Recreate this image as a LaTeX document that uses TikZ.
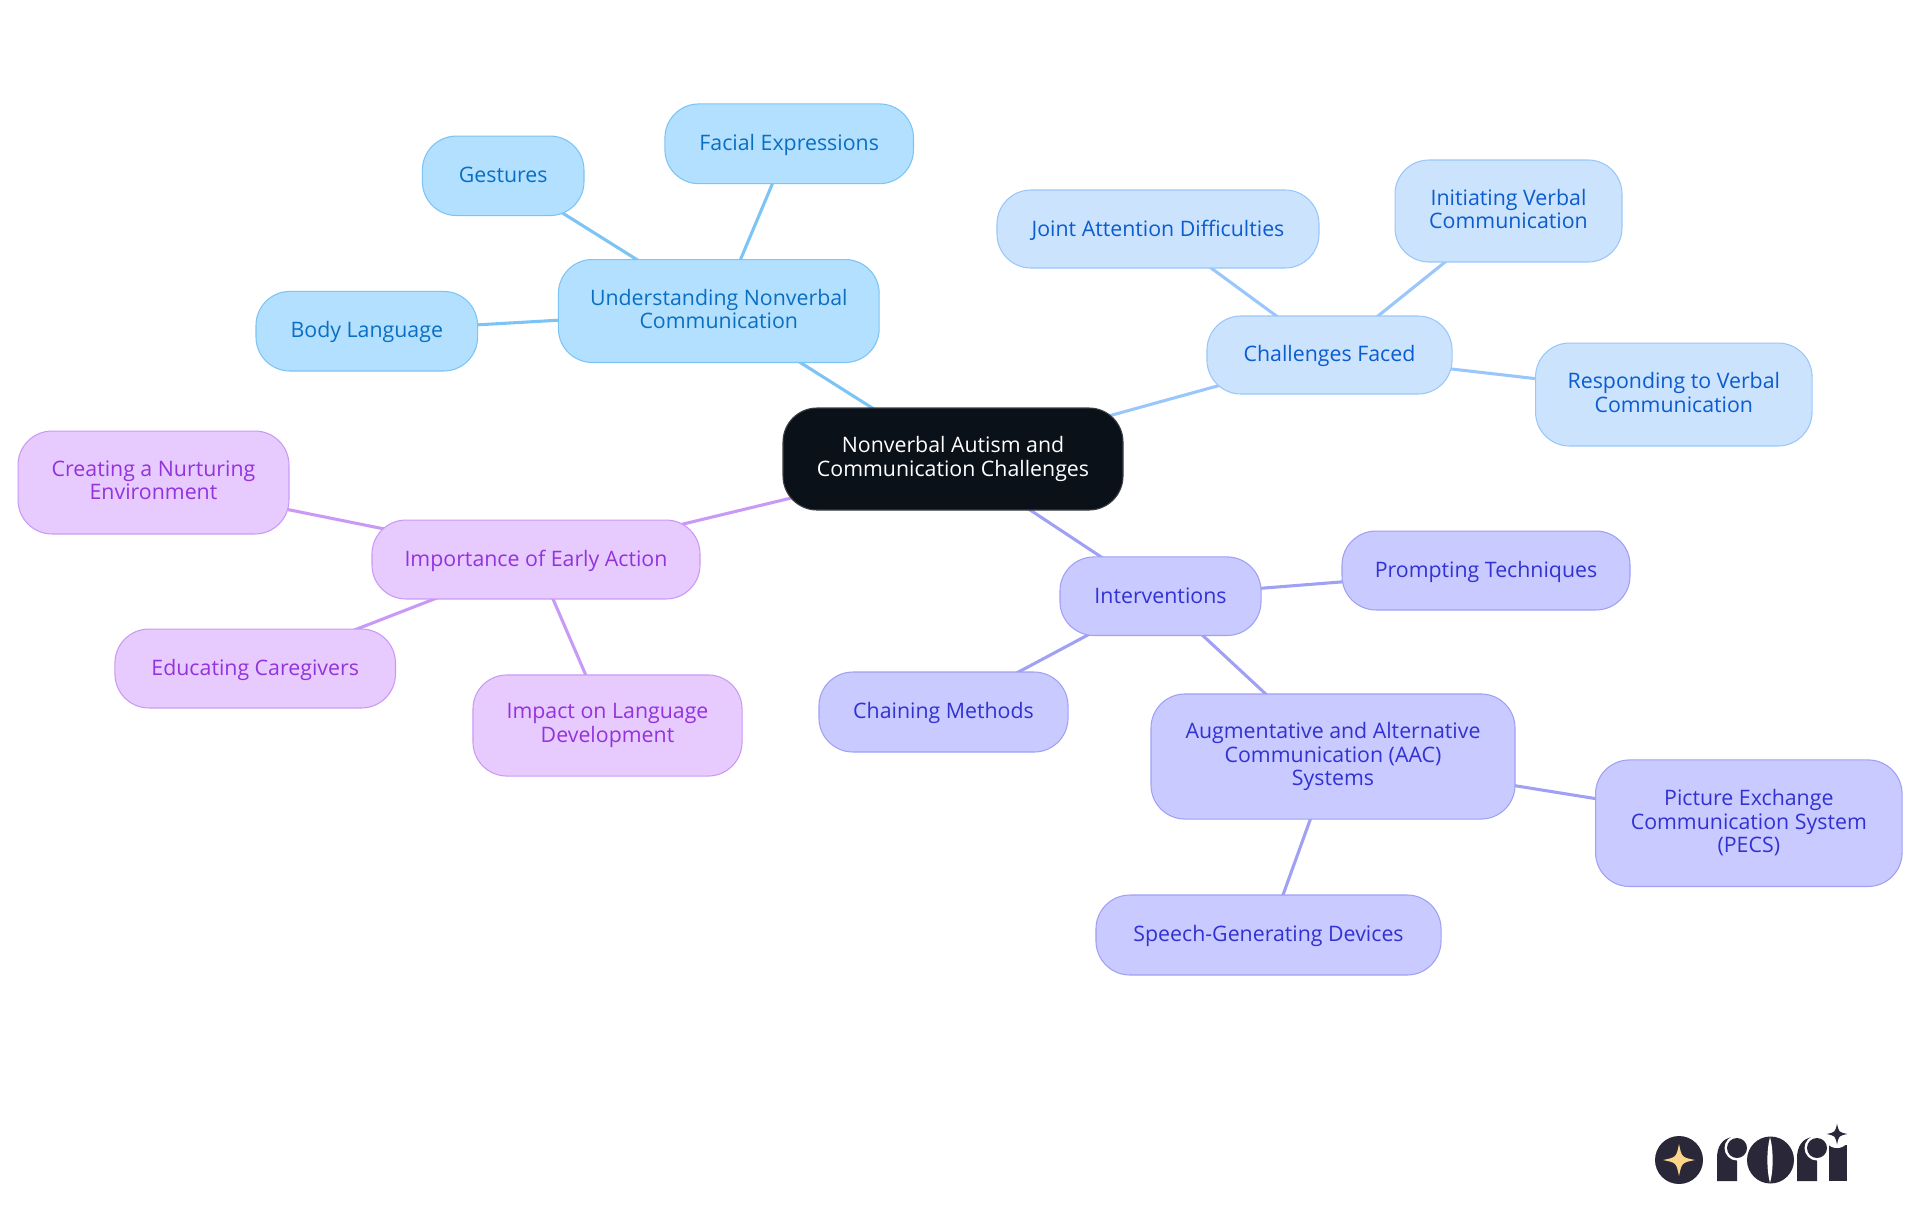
\documentclass[tikz,border=0pt]{standalone}
\usepackage{fontspec}
\setmainfont{Open Sans}
\usetikzlibrary{backgrounds}
\definecolor{logodark}{HTML}{2A2838}
\definecolor{logogold}{HTML}{FBD68A}
\definecolor{rootfill}{HTML}{0B1119}
\definecolor{rootline}{HTML}{3C4046}
\definecolor{bluefill}{HTML}{B3E0FF}
\definecolor{blueline}{HTML}{7CC4F5}
\definecolor{bluetext}{HTML}{0A6FC2}
\definecolor{skyfill}{HTML}{CCE3FD}
\definecolor{skyline}{HTML}{99C7FB}
\definecolor{skytext}{HTML}{0B5CCF}
\definecolor{indfill}{HTML}{C9CAFF}
\definecolor{indline}{HTML}{A0A0F5}
\definecolor{indtext}{HTML}{3232D2}
\definecolor{purfill}{HTML}{E7CBFF}
\definecolor{purline}{HTML}{C99AF5}
\definecolor{purtext}{HTML}{9333DB}
\tikzset{
  x=0.75pt,y=-0.75pt,
  mapnode/.style={rectangle,rounded corners=25.5pt,inner sep=0pt,align=center,line width=0.8pt,
    font=\fontsize{16}{17.5}\selectfont,
    execute at begin node={\rule{0pt}{14pt}},execute at end node={\rule[-3.4pt]{0pt}{3.4pt}}},
  root/.style={mapnode,fill=rootfill,draw=rootline,text=white},
  bluenode/.style={mapnode,fill=bluefill,draw=blueline,text=bluetext},
  skynode/.style={mapnode,fill=skyfill,draw=skyline,text=skytext},
  indnode/.style={mapnode,fill=indfill,draw=indline,text=indtext},
  purnode/.style={mapnode,fill=purfill,draw=purline,text=purtext},
  link/.style={line width=2.3pt},
  logoshape/.style={fill=logodark,draw=none},
}
\newcommand{\logostar}[4]{%
  \fill[#4] (#1,#2-#3) .. controls (#1+0.17*#3,#2-0.17*#3) .. (#1+#3,#2)
    .. controls (#1+0.17*#3,#2+0.17*#3) .. (#1,#2+#3)
    .. controls (#1-0.17*#3,#2+0.17*#3) .. (#1-#3,#2)
    .. controls (#1-0.17*#3,#2-0.17*#3) .. cycle;}
\begin{document}
\begin{tikzpicture}
\useasboundingbox (0,0) rectangle (1920,1215);

\node[root,minimum width=255pt,minimum height=76.5pt] (center) at (953,459) {Nonverbal Autism and\\Communication Challenges};

\node[bluenode,minimum width=240.6pt,minimum height=77.2pt] (understanding) at (718.8,311) {Understanding Nonverbal\\Communication};
\node[bluenode,minimum width=121.2pt,minimum height=59.6pt] (gestures) at (503.2,175.8) {Gestures};
\node[bluenode,minimum width=186.4pt,minimum height=59.8pt] (facial) at (789.2,143.8) {Facial Expressions};
\node[bluenode,minimum width=166.2pt,minimum height=59.7pt] (body) at (366.8,331.2) {Body Language};

\node[skynode,minimum width=183.8pt,minimum height=58.5pt] (challenges) at (1329.5,355) {Challenges Faced};
\node[skynode,minimum width=241.5pt,minimum height=58.5pt] (joint) at (1158,229) {Joint Attention Difficulties};
\node[skynode,minimum width=170.2pt,minimum height=76.5pt] (initiating) at (1508.5,211) {Initiating Verbal\\Communication};
\node[skynode,minimum width=207.4pt,minimum height=77.2pt] (responding) at (1673.8,394.5) {Responding to Verbal\\Communication};

\node[indnode,minimum width=150.8pt,minimum height=58.9pt] (interventions) at (1160.5,596.2) {Interventions};
\node[indnode,minimum width=216pt,minimum height=59.2pt] (prompting) at (1486,570.5) {Prompting Techniques};
\node[indnode,minimum width=186.8pt,minimum height=60pt] (chaining) at (943.5,712) {Chaining Methods};
\node[indnode,minimum width=273pt,minimum height=93.8pt] (aac) at (1333,756.5) {Augmentative and Alternative\\Communication (AAC)\\Systems};
\node[indnode,minimum width=229.9pt,minimum height=94.9pt] (pecs) at (1748.8,823.2) {Picture Exchange\\Communication System\\(PECS)};
\node[indnode,minimum width=258.8pt,minimum height=60pt] (speech) at (1268.5,935) {Speech-Generating Devices};

\node[purnode,minimum width=246pt,minimum height=59.2pt] (importance) at (536,559.5) {Importance of Early Action};
\node[purnode,minimum width=203.2pt,minimum height=77.2pt] (creating) at (153.5,482.5) {Creating a Nurturing\\Environment};
\node[purnode,minimum width=210.4pt,minimum height=59.2pt] (educating) at (255.2,668.5) {Educating Caregivers};
\node[purnode,minimum width=201.8pt,minimum height=75.8pt] (impact) at (607.5,725.5) {Impact on Language\\Development};

\begin{scope}[on background layer]
\fill[white] (0,0) rectangle (1920,1215);
\draw[link,blueline] (center.center) -- (understanding.center);
\draw[link,blueline] (understanding.center) -- (gestures.center);
\draw[link,blueline] (understanding.center) -- (facial.center);
\draw[link,blueline] (understanding.center) -- (body.center);
\draw[link,skyline] (center.center) -- (challenges.center);
\draw[link,skyline] (challenges.center) -- (joint.center);
\draw[link,skyline] (challenges.center) -- (initiating.center);
\draw[link,skyline] (challenges.center) -- (responding.center);
\draw[link,indline] (center.center) -- (interventions.center);
\draw[link,indline] (interventions.center) -- (prompting.center);
\draw[link,indline] (interventions.center) -- (chaining.center);
\draw[link,indline] (interventions.center) -- (aac.center);
\draw[link,indline] (aac.center) -- (pecs.center);
\draw[link,indline] (aac.center) -- (speech.center);
\draw[link,purline] (center.center) -- (importance.center);
\draw[link,purline] (importance.center) -- (creating.center);
\draw[link,purline] (importance.center) -- (educating.center);
\draw[link,purline] (importance.center) -- (impact.center);
\end{scope}

% logo
\fill[logoshape] (1679,1160) circle[radius=24];
\logostar{1679}{1160}{16}{logogold}
\fill[logoshape] (1717,1181) -- (1717,1158) .. controls (1717,1147) and (1722,1138) .. (1733,1137) -- (1737,1137) -- (1737,1181) -- cycle;
\fill[white] (1737,1148) circle[radius=12.5];
\fill[logoshape] (1737,1148) circle[radius=10];
\fill[logoshape] (1770.5,1160) circle[radius=23.5];
\fill[white] (1770,1137) .. controls (1773.5,1150) and (1773.5,1170) .. (1770,1183) .. controls (1766.5,1170) and (1766.5,1150) .. cycle;
\fill[logoshape] (1797,1181) -- (1797,1158) .. controls (1797,1147) and (1802,1138) .. (1813,1137) -- (1817,1137) -- (1817,1181) -- cycle;
\fill[white] (1817,1148) circle[radius=12.5];
\fill[logoshape] (1817,1148) circle[radius=10];
\fill[logoshape] (1829,1145) rectangle (1847,1181);
\fill[white] (1837,1134) circle[radius=14];
\logostar{1837}{1134}{10.5}{logodark}
\end{tikzpicture}
\end{document}
